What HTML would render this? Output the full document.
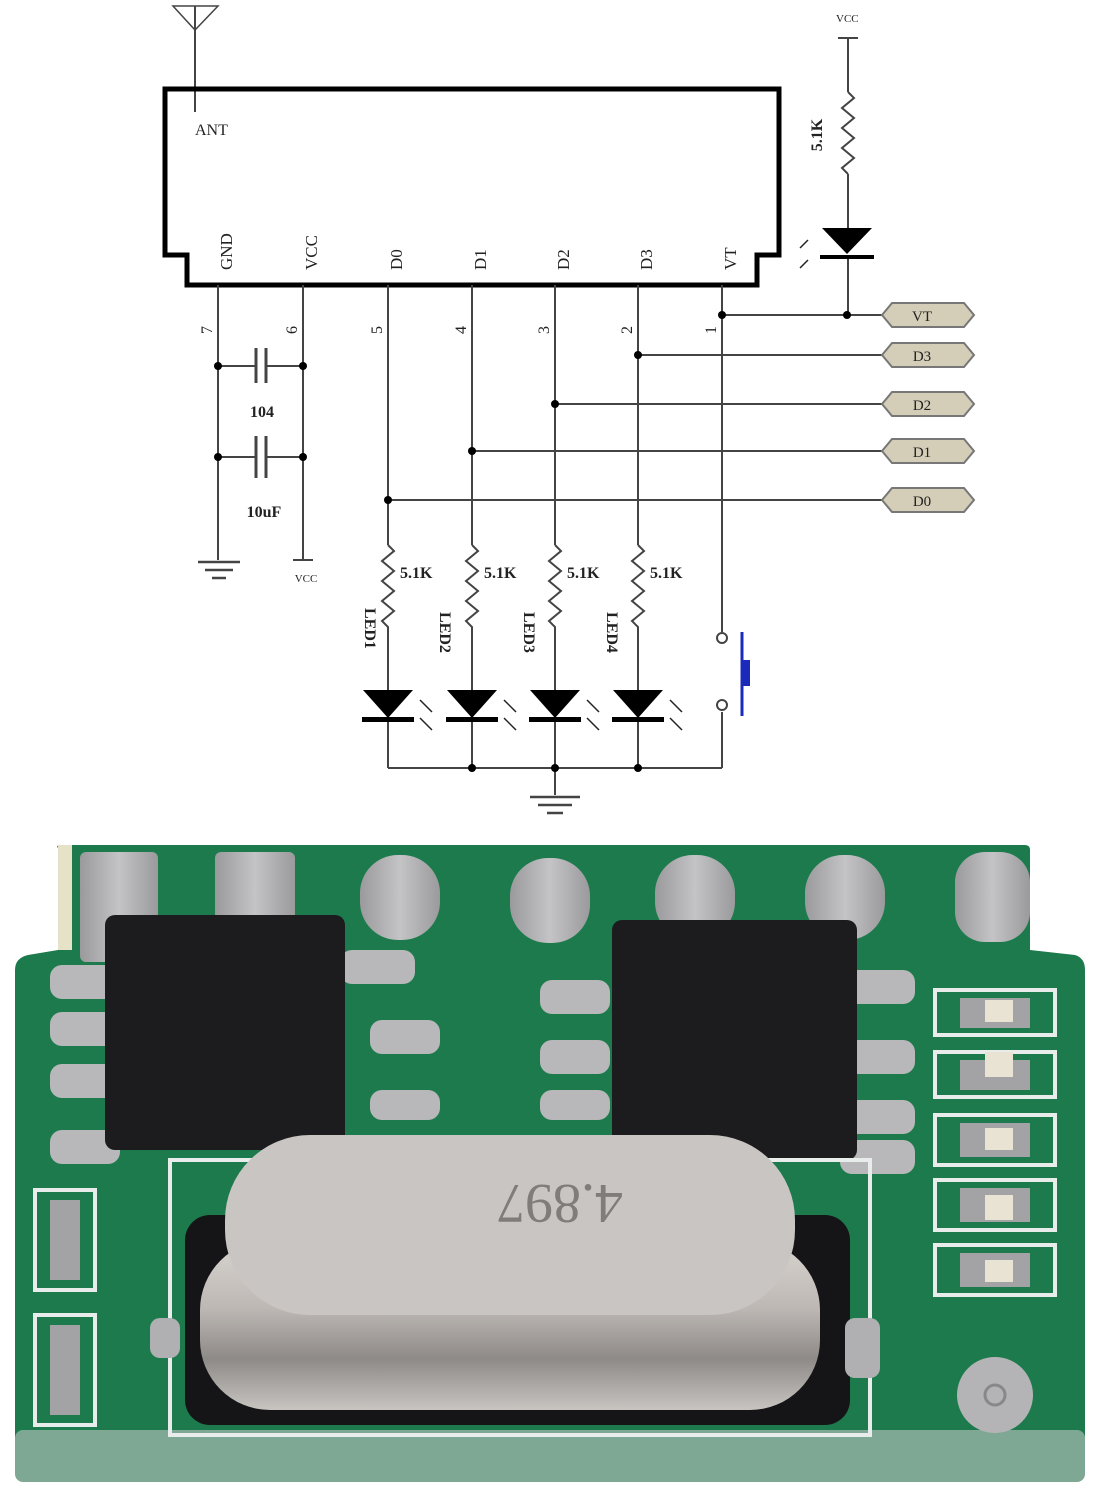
<!DOCTYPE html>
<html><head><meta charset="utf-8"><style>
html,body{margin:0;padding:0;background:#fff}
svg{display:block}
text{font-family:"Liberation Serif",serif;fill:#222}
</style></head><body>
<svg width="1095" height="1497" viewBox="0 0 1095 1497" xmlns="http://www.w3.org/2000/svg">
<defs>
<linearGradient id="xt" x1="0" y1="0" x2="0" y2="1"><stop offset="0" stop-color="#d8d4d0"/><stop offset="0.4" stop-color="#bdb8b4"/><stop offset="0.7" stop-color="#8e8a88"/><stop offset="1" stop-color="#c8c4c0"/></linearGradient>
<linearGradient id="pad" x1="0" y1="0" x2="1" y2="0"><stop offset="0" stop-color="#9a9a9c"/><stop offset="0.5" stop-color="#c4c4c6"/><stop offset="1" stop-color="#9a9a9c"/></linearGradient>
</defs>
<g stroke="#444" stroke-width="2" fill="none">
<!-- antenna -->
<path d="M173 6 L218 6 L195 30 Z" stroke-width="1.5"/>
<line x1="195" y1="6" x2="195" y2="112"/>
<!-- module box -->
<path d="M165 89 L779 89 L779 255 L757 255 L757 285 L187 285 L187 255 L165 255 Z" stroke="#000" stroke-width="5"/>
<!-- pins -->
<line x1="218" y1="285" x2="218" y2="560"/>
<line x1="303" y1="285" x2="303" y2="560"/>
<line x1="388" y1="285" x2="388" y2="545"/>
<line x1="472" y1="285" x2="472" y2="545"/>
<line x1="555" y1="285" x2="555" y2="545"/>
<line x1="638" y1="285" x2="638" y2="545"/>
<line x1="722" y1="285" x2="722" y2="632"/>
<!-- buses -->
<line x1="722" y1="315" x2="882" y2="315"/>
<line x1="638" y1="355" x2="882" y2="355"/>
<line x1="555" y1="404" x2="882" y2="404"/>
<line x1="472" y1="451" x2="882" y2="451"/>
<line x1="388" y1="500" x2="882" y2="500"/>
<!-- vcc top right -->
<line x1="838" y1="38" x2="858" y2="38"/>
<line x1="848" y1="38" x2="848" y2="92"/>
<path d="M848 92 l6 6 l-12 10 l12 10 l-12 10 l12 10 l-12 10 l12 10 l-12 10 l6 6"/>
<line x1="848" y1="174" x2="848" y2="228"/>
<line x1="848" y1="256" x2="848" y2="315"/>
<!-- caps -->
<line x1="218" y1="366" x2="256" y2="366"/><line x1="266" y1="366" x2="303" y2="366"/>
<line x1="256" y1="348" x2="256" y2="383" stroke-width="3"/><line x1="266" y1="348" x2="266" y2="383" stroke-width="3"/>
<line x1="218" y1="457" x2="256" y2="457"/><line x1="266" y1="457" x2="303" y2="457"/>
<line x1="256" y1="436" x2="256" y2="478" stroke-width="3"/><line x1="266" y1="436" x2="266" y2="478" stroke-width="3"/>
<!-- gnd left -->
<line x1="198" y1="562" x2="240" y2="562" stroke-width="2.5"/>
<line x1="205" y1="570" x2="233" y2="570" stroke-width="2.5"/>
<line x1="212" y1="578" x2="226" y2="578" stroke-width="2.5"/>
<line x1="293" y1="560" x2="313" y2="560"/>
<!-- resistors -->
<path d="M388 545 l6 6 l-12 10 l12 10 l-12 10 l12 10 l-12 10 l12 10 l-12 10 l6 6 L388 690"/>
<path d="M472 545 l6 6 l-12 10 l12 10 l-12 10 l12 10 l-12 10 l12 10 l-12 10 l6 6 L472 690"/>
<path d="M555 545 l6 6 l-12 10 l12 10 l-12 10 l12 10 l-12 10 l12 10 l-12 10 l6 6 L555 690"/>
<path d="M638 545 l6 6 l-12 10 l12 10 l-12 10 l12 10 l-12 10 l12 10 l-12 10 l6 6 L638 690"/>
<line x1="388" y1="720" x2="388" y2="768"/><line x1="472" y1="720" x2="472" y2="768"/>
<line x1="555" y1="720" x2="555" y2="795"/><line x1="638" y1="720" x2="638" y2="768"/>
<line x1="388" y1="768" x2="722" y2="768"/>
<line x1="722" y1="712" x2="722" y2="768"/>
<line x1="530" y1="797" x2="580" y2="797" stroke-width="2.5"/>
<line x1="538" y1="805" x2="572" y2="805" stroke-width="2.5"/>
<line x1="547" y1="813" x2="563" y2="813" stroke-width="2.5"/>
<!-- switch -->
<circle cx="722" cy="638" r="5" fill="#fff"/>
<circle cx="722" cy="705" r="5" fill="#fff"/>
</g>
<line x1="742" y1="632" x2="742" y2="716" stroke="#1a2bbb" stroke-width="3"/>
<rect x="742" y="660" width="8" height="26" fill="#1a2bbb"/>
<!-- diodes -->
<g fill="#000">
<path d="M822 228 L872 228 L847 254 Z"/><rect x="820" y="255" width="54" height="4"/>
<path d="M363 690 L413 690 L388 718 Z"/><rect x="362" y="717" width="52" height="5"/>
<path d="M447 690 L497 690 L472 718 Z"/><rect x="446" y="717" width="52" height="5"/>
<path d="M530 690 L580 690 L555 718 Z"/><rect x="529" y="717" width="52" height="5"/>
<path d="M613 690 L663 690 L638 718 Z"/><rect x="612" y="717" width="52" height="5"/>
</g>
<g stroke="#222" stroke-width="1.5">
<line x1="800" y1="248" x2="808" y2="240"/><line x1="800" y1="268" x2="808" y2="260"/>
<line x1="420" y1="700" x2="432" y2="712"/><line x1="420" y1="718" x2="432" y2="730"/>
<line x1="504" y1="700" x2="516" y2="712"/><line x1="504" y1="718" x2="516" y2="730"/>
<line x1="587" y1="700" x2="599" y2="712"/><line x1="587" y1="718" x2="599" y2="730"/>
<line x1="670" y1="700" x2="682" y2="712"/><line x1="670" y1="718" x2="682" y2="730"/>
</g>
<!-- junction dots -->
<g fill="#000">
<circle cx="722" cy="315" r="4"/><circle cx="847" cy="315" r="4"/><circle cx="638" cy="355" r="4"/>
<circle cx="555" cy="404" r="4"/><circle cx="472" cy="451" r="4"/><circle cx="388" cy="500" r="4"/>
<circle cx="218" cy="366" r="4"/><circle cx="303" cy="366" r="4"/><circle cx="218" cy="457" r="4"/><circle cx="303" cy="457" r="4"/>
<circle cx="472" cy="768" r="4"/><circle cx="555" cy="768" r="4"/><circle cx="638" cy="768" r="4"/>
</g>
<!-- tags -->
<g fill="#d4cdb8" stroke="#777" stroke-width="2">
<path d="M882 315 l10 -12 h72 l10 12 l-10 12 h-72 Z"/>
<path d="M882 355 l10 -12 h72 l10 12 l-10 12 h-72 Z"/>
<path d="M882 404 l10 -12 h72 l10 12 l-10 12 h-72 Z"/>
<path d="M882 451 l10 -12 h72 l10 12 l-10 12 h-72 Z"/>
<path d="M882 500 l10 -12 h72 l10 12 l-10 12 h-72 Z"/>
</g>
<g font-size="15" text-anchor="middle">
<text x="922" y="321">VT</text><text x="922" y="361">D3</text><text x="922" y="410">D2</text><text x="922" y="457">D1</text><text x="922" y="506">D0</text>
</g>
<text x="195" y="135" font-size="16">ANT</text>
<text x="836" y="22" font-size="11">VCC</text>
<text transform="translate(822,135) rotate(-90)" font-size="16" font-weight="bold" text-anchor="middle">5.1K</text>
<g font-size="17" text-anchor="start">
<text transform="translate(232,270) rotate(-90)">GND</text>
<text transform="translate(317,270) rotate(-90)">VCC</text>
<text transform="translate(402,270) rotate(-90)">D0</text>
<text transform="translate(486,270) rotate(-90)">D1</text>
<text transform="translate(569,270) rotate(-90)">D2</text>
<text transform="translate(652,270) rotate(-90)">D3</text>
<text transform="translate(736,270) rotate(-90)">VT</text>
</g>
<g font-size="16" text-anchor="middle">
<text transform="translate(212,330) rotate(-90)">7</text>
<text transform="translate(297,330) rotate(-90)">6</text>
<text transform="translate(382,330) rotate(-90)">5</text>
<text transform="translate(466,330) rotate(-90)">4</text>
<text transform="translate(549,330) rotate(-90)">3</text>
<text transform="translate(632,330) rotate(-90)">2</text>
<text transform="translate(716,330) rotate(-90)">1</text>
</g>
<text x="262" y="417" font-size="16" font-weight="bold" text-anchor="middle">104</text>
<text x="264" y="517" font-size="16" font-weight="bold" text-anchor="middle">10uF</text>
<text x="306" y="582" font-size="11" text-anchor="middle">VCC</text>
<g font-size="16" font-weight="bold">
<text x="400" y="578">5.1K</text><text x="484" y="578">5.1K</text><text x="567" y="578">5.1K</text><text x="650" y="578">5.1K</text>
<text transform="translate(365,608) rotate(90)">LED1</text>
<text transform="translate(440,612) rotate(90)">LED2</text>
<text transform="translate(524,612) rotate(90)">LED3</text>
<text transform="translate(607,612) rotate(90)">LED4</text>
</g>

<!-- PCB photo -->
<path d="M58 848 Q55 845 62 845 L1025 845 Q1030 845 1030 850 L1030 950 L1075 955 Q1085 958 1085 970 L1085 1470 Q1085 1482 1070 1482 L30 1482 Q15 1482 15 1470 L15 970 Q15 958 28 955 L58 950 Z" fill="#1c7a4c"/>
<rect x="15" y="1430" width="1070" height="52" fill="#7ea893" rx="8"/>
<rect x="58" y="845" width="14" height="105" fill="#e6e2c8"/>
<!-- top pads -->
<g fill="url(#pad)">
<rect x="80" y="852" width="78" height="110" rx="6"/>
<rect x="215" y="852" width="80" height="110" rx="6"/>
<rect x="360" y="855" width="80" height="85" rx="38"/>
<rect x="510" y="858" width="80" height="85" rx="38"/>
<rect x="655" y="855" width="80" height="85" rx="38"/>
<rect x="805" y="855" width="80" height="85" rx="38"/>
<rect x="955" y="852" width="75" height="90" rx="30"/>
</g>
<!-- silver leads left chip -->
<g fill="#b8b8ba">
<rect x="50" y="965" width="70" height="34" rx="12"/><rect x="50" y="1012" width="70" height="34" rx="12"/><rect x="50" y="1064" width="70" height="34" rx="12"/><rect x="50" y="1130" width="70" height="34" rx="12"/>
<rect x="340" y="950" width="75" height="34" rx="12"/><rect x="370" y="1020" width="70" height="34" rx="12"/><rect x="370" y="1090" width="70" height="30" rx="12"/>
<rect x="540" y="980" width="70" height="34" rx="12"/><rect x="540" y="1040" width="70" height="34" rx="12"/><rect x="540" y="1090" width="70" height="30" rx="12"/>
<rect x="840" y="970" width="75" height="34" rx="12"/><rect x="840" y="1040" width="75" height="34" rx="12"/><rect x="840" y="1100" width="75" height="34" rx="12"/><rect x="840" y="1140" width="75" height="34" rx="12"/>
</g>
<!-- chips -->
<rect x="105" y="915" width="240" height="235" rx="10" fill="#1c1c1e"/>
<rect x="612" y="920" width="245" height="240" rx="10" fill="#1c1c1e"/>
<!-- right side components -->
<g fill="none" stroke="#e8ecea" stroke-width="4">
<rect x="935" y="990" width="120" height="45"/><rect x="935" y="1052" width="120" height="45"/><rect x="935" y="1115" width="120" height="50"/><rect x="935" y="1180" width="120" height="50"/><rect x="935" y="1245" width="120" height="50"/>
<rect x="35" y="1190" width="60" height="100"/><rect x="35" y="1315" width="60" height="110"/>
</g>
<g fill="#a3a3a6">
<rect x="960" y="998" width="70" height="30"/><rect x="960" y="1060" width="70" height="30"/><rect x="960" y="1123" width="70" height="34"/><rect x="960" y="1188" width="70" height="34"/><rect x="960" y="1253" width="70" height="34"/>
<rect x="50" y="1200" width="30" height="80"/><rect x="50" y="1325" width="30" height="90"/>
</g>
<g fill="#e9e3d4"><rect x="985" y="1000" width="28" height="22"/><rect x="985" y="1052" width="28" height="25"/><rect x="985" y="1128" width="28" height="22"/><rect x="985" y="1195" width="28" height="25"/><rect x="985" y="1260" width="28" height="22"/></g>
<circle cx="995" cy="1395" r="38" fill="#b4b4b6"/><circle cx="995" cy="1395" r="10" fill="none" stroke="#888" stroke-width="3"/>
<!-- crystal -->
<rect x="170" y="1160" width="700" height="275" fill="none" stroke="#e8ecea" stroke-width="4"/>
<rect x="185" y="1215" width="665" height="210" rx="25" fill="#151517"/>
<rect x="150" y="1318" width="30" height="40" rx="10" fill="#b0b0b2"/>
<rect x="845" y="1318" width="35" height="60" rx="10" fill="#b0b0b2"/>
<rect x="200" y="1240" width="620" height="170" rx="70" fill="url(#xt)"/>
<rect x="225" y="1135" width="570" height="180" rx="85" fill="#c9c5c2"/>
<text transform="translate(560,1185) rotate(180)" font-family="Liberation Sans,sans-serif" font-size="56" fill="#807c7a" text-anchor="middle" style="fill:#807c7a">4.897</text>
</svg>
</body></html>
